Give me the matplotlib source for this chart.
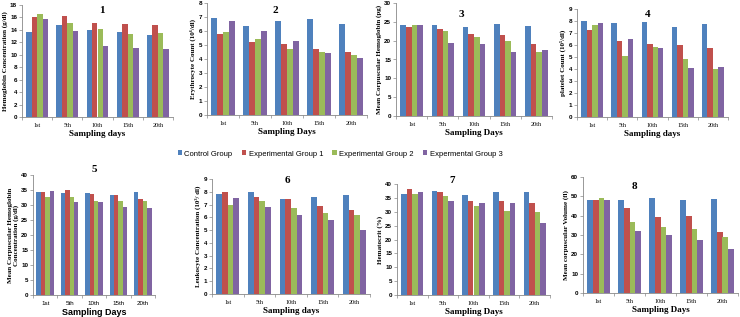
import numpy as np
import matplotlib
matplotlib.use("Agg")
import matplotlib.pyplot as plt

days = ['1st', '5th', '10th', '15th', '20th']
groups = ['Control Group', 'Experimental Group 1', 'Experimental Group 2', 'Expermental Group 3']
colors = ['#4F81BD', '#C0504D', '#9BBB59', '#8064A2']

# values per panel: rows = groups, columns = sampling days
hb = [[13.7, 14.8, 14.0, 13.7, 13.1],
      [16.0, 16.2, 15.1, 15.0, 14.8],
      [16.5, 15.1, 14.1, 13.3, 13.5],
      [15.7, 13.8, 11.4, 11.1, 10.9]]
rbc = [[6.93, 6.37, 6.70, 6.89, 6.48],
       [5.80, 5.25, 5.10, 4.75, 4.52],
       [5.90, 5.42, 4.73, 4.47, 4.26],
       [6.70, 6.00, 5.30, 4.40, 4.04]]
mch = [[24.2, 24.1, 23.6, 24.3, 24.0],
       [23.7, 23.1, 21.7, 21.5, 19.2],
       [24.1, 22.6, 20.9, 20.0, 17.1],
       [24.2, 19.5, 19.1, 17.1, 17.6]]
plt_count = [[8.00, 7.82, 7.88, 7.46, 7.77],
             [7.26, 6.31, 6.06, 5.98, 5.75],
             [7.68, 5.08, 5.87, 4.80, 4.02],
             [7.85, 6.48, 5.75, 4.05, 4.13]]
mchc = [[34.2, 34.0, 33.9, 33.2, 34.2],
        [34.2, 35.0, 33.7, 33.2, 32.1],
        [32.8, 32.7, 31.4, 31.2, 31.2],
        [34.7, 31.1, 31.0, 29.4, 29.1]]
wbc = [[7.83, 7.99, 7.41, 7.62, 7.78],
       [7.96, 7.62, 7.44, 6.92, 6.55],
       [7.00, 7.31, 6.74, 6.34, 6.19],
       [7.49, 6.79, 6.16, 5.82, 4.99]]
hct = [[36.4, 37.5, 35.9, 37.1, 37.1],
       [38.1, 37.1, 34.0, 33.9, 33.1],
       [36.4, 35.8, 31.9, 30.1, 29.9],
       [37.1, 34.0, 33.1, 33.1, 26.1]]
mcv = [[48.2, 48.0, 49.2, 48.2, 48.4],
       [48.0, 43.8, 39.3, 39.7, 31.5],
       [48.9, 36.7, 34.0, 32.9, 28.8],
       [48.0, 31.9, 30.2, 27.6, 22.9]]

ylabels = ['Hemoglobin Concentration (g/dl)', 'Erythrocyte Count (10\u2076/dl)',
           'Mean Corpuscular Hemoglobin (pg)', 'platelet Count (10\u2075/dl)',
           'Mean Corpuscular Hemoglobin\nConcentration (g/dl)',
           'Leukocyte Concentration (10\u00b3/ dl)', 'Hematocrit (%)',
           'Mean corpuscular Volume (fl)']
xlabels = ['Sampling days', 'Sampling Days', 'Sampling Days', 'Sampling days',
           'Sampling Days', 'Sampling days', 'Sampling Days', 'Sampling Days']
ymaxes = [18, 8, 30, 9, 40, 9, 40, 60]
ysteps = [2, 1, 5, 1, 5, 1, 5, 10]
panel_data = [hb, rbc, mch, plt_count, mchc, wbc, hct, mcv]

W, H = 740, 317
# axes boxes in pixels: left, top, right, bottom
boxes = [(22, 5, 173, 117), (207, 3, 367, 115), (396, 3, 552, 116), (577, 9, 728, 117),
         (33, 175, 155, 295), (212, 179, 370, 294), (397, 184, 550, 295), (583, 177, 738, 293)]
title_pos = [(0.53, 0.95), (0.43, 0.93), (0.42, 0.90), (0.47, 0.95),
             (0.50, 1.05), (0.48, 0.99), (0.36, 1.03), (0.33, 0.92)]

serif = ['Liberation Serif', 'DejaVu Serif']
sans = ['Liberation Sans', 'DejaVu Sans']

fig = plt.figure(figsize=(W / 100, H / 100), dpi=100)

x = np.arange(len(days))
bw = 0.18
for i, vals in enumerate(panel_data):
    l, t, r, b = boxes[i]
    ax = fig.add_axes([l / W, 1 - b / H, (r - l) / W, (b - t) / H])
    for g in range(4):
        ax.bar(x + (g - 1.5) * bw, vals[g], width=bw, color=colors[g], label=groups[g])
    ax.set_xlim(-0.5, 4.5)
    ax.set_ylim(0, ymaxes[i])
    ax.set_yticks(np.arange(0, ymaxes[i] + 0.01, ysteps[i]))
    ax.set_xticks(x)
    ax.set_xticklabels(days, fontsize=4.5, family=sans if i == 4 else serif)
    ax.set_xticks(np.arange(-0.5, 5, 1), minor=True)
    ax.tick_params(axis='x', which='major', length=0, pad=4)
    ax.tick_params(axis='x', which='minor', length=2, width=0.5, color='#888888')
    ax.tick_params(axis='y', length=2, width=0.5, color='#888888', pad=1.5)
    for lab in ax.get_yticklabels():
        lab.set_fontsize(4.5)
        lab.set_fontweight('bold')
        lab.set_family(sans)
    for s in ['top', 'right']:
        ax.spines[s].set_visible(False)
    for s in ['left', 'bottom']:
        ax.spines[s].set_color('#888888')
        ax.spines[s].set_linewidth(0.6)
    ax.set_ylabel(ylabels[i], fontsize=5, fontweight='bold', family=serif, labelpad=1.5,
                  linespacing=0.95)
    ax.set_xlabel(xlabels[i], fontsize=6.5, fontweight='bold',
                  family=sans if i == 4 else serif, labelpad=2)
    tx, ty = title_pos[i]
    ax.text(tx, ty, str(i + 1), transform=ax.transAxes, ha='center', va='center',
            fontsize=8, fontweight='bold', family=serif)

handles, labels = ax.get_legend_handles_labels()
fig.legend(handles, labels, loc='center', bbox_to_anchor=(340 / W, 1 - 154 / H), ncol=4,
           frameon=False, handlelength=0.6, handleheight=0.6,
           handletextpad=0.3, columnspacing=1.2, prop={'family': sans, 'size': 5.5})

fig.savefig('out.png', dpi=100)
